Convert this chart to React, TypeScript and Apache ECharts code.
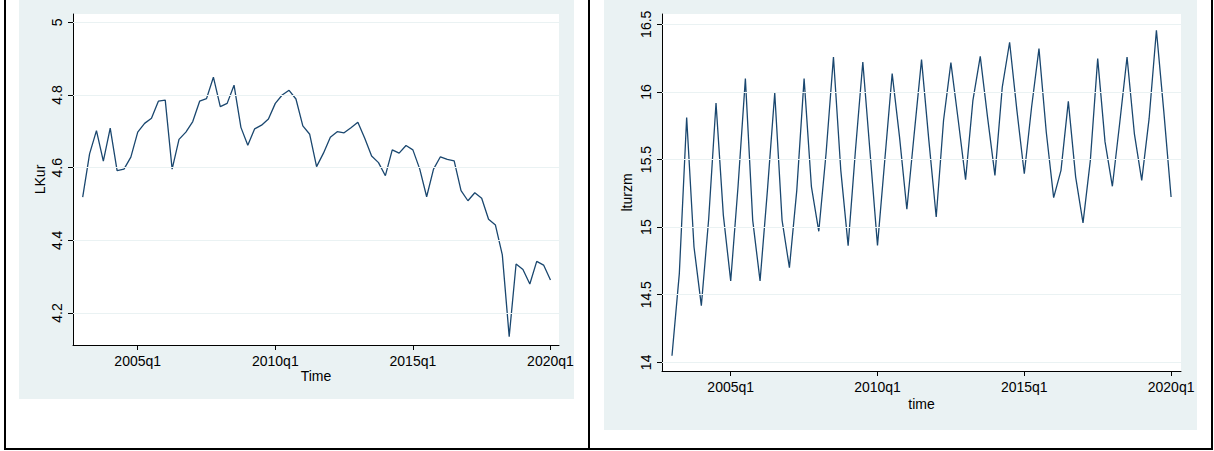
import React, { useEffect, useRef } from "react";
import * as echarts from "echarts";

// Quarterly series, 2003q1 .. 2020q1 (69 quarters)
const lkur = [
  4.519, 4.638, 4.702, 4.618, 4.709, 4.592, 4.596, 4.629,
  4.698, 4.722, 4.736, 4.783, 4.786, 4.596, 4.678, 4.698,
  4.727, 4.783, 4.79, 4.849, 4.768, 4.777, 4.827, 4.711,
  4.662, 4.707, 4.717, 4.734, 4.777, 4.8, 4.813, 4.789,
  4.715, 4.692, 4.603, 4.64, 4.684, 4.699, 4.696, 4.71,
  4.725, 4.681, 4.632, 4.614, 4.578, 4.649, 4.64, 4.661,
  4.649, 4.596, 4.52, 4.596, 4.63, 4.623, 4.619, 4.537,
  4.509, 4.531, 4.516, 4.458, 4.442, 4.36, 4.135, 4.335,
  4.32, 4.28, 4.342, 4.332, 4.291,
];

const lturzm = [
  14.049, 14.656, 15.81, 14.853, 14.419, 15.06, 15.918, 15.087,
  14.602, 15.3, 16.098, 15.05, 14.602, 15.27, 15.992, 15.05,
  14.7, 15.27, 16.098, 15.297, 14.969, 15.55, 16.258, 15.42,
  14.863, 15.57, 16.221, 15.543, 14.865, 15.5, 16.135, 15.667,
  15.132, 15.69, 16.239, 15.64, 15.075, 15.79, 16.216, 15.79,
  15.351, 15.938, 16.263, 15.81, 15.383, 16.036, 16.367, 15.86,
  15.395, 15.89, 16.32, 15.7, 15.218, 15.42, 15.93, 15.37,
  15.031, 15.494, 16.246, 15.63, 15.302, 15.77, 16.258, 15.69,
  15.346, 15.8, 16.456, 15.86, 15.223,
];

const xTickIndex = [8, 28, 48, 68];
const xTickLabels = ["2005q1", "2010q1", "2015q1", "2020q1"];
const lkurTicks = [4.2, 4.4, 4.6, 4.8, 5];
const lturzmTicks = [14, 14.5, 15, 15.5, 16, 16.5];

const NAVY = "#1a476f";
const GRIDC = "#eaf2f3";
const FONT = "Liberation Sans";
const FS = 14;

function xLabel(v: number) {
  const k = xTickIndex.indexOf(Math.round(v));
  return k >= 0 ? xTickLabels[k] : "";
}

function makeX(gridIndex: number, name: string, min: number, max: number, nameGap: number) {
  return {
    type: "value",
    gridIndex,
    min,
    max,
    name,
    nameLocation: "middle",
    nameGap,
    nameMoveOverlap: false,
    nameTextStyle: { color: "#000", fontFamily: FONT, fontSize: FS },
    axisLine: { show: true, onZero: false, lineStyle: { color: "#000", width: 1 } },
    axisTick: { show: true, length: 5, customValues: xTickIndex, lineStyle: { color: "#000" } },
    axisLabel: {
      customValues: xTickIndex,
      formatter: xLabel,
      color: "#000",
      fontFamily: FONT,
      fontSize: FS,
      margin: 9,
    },
    splitLine: { show: false },
  };
}

function makeY(gridIndex: number, name: string, min: number, max: number, ticks: number[], nameGap: number) {
  return {
    type: "value",
    gridIndex,
    min,
    max,
    name,
    nameLocation: "middle",
    nameGap,
    nameTextStyle: { color: "#000", fontFamily: FONT, fontSize: FS },
    axisLine: { show: true, onZero: false, lineStyle: { color: "#000", width: 1 } },
    axisTick: { show: true, length: 5, customValues: ticks, lineStyle: { color: "#000" } },
    axisLabel: {
      customValues: ticks,
      formatter: (v: number) => String(v),
      rotate: 90,
      color: "#000",
      fontFamily: FONT,
      fontSize: FS,
      margin: 9,
    },
    splitLine: { show: false },
  };
}

function gridSeries(idx: number, data: number[][], ticks: number[]) {
  return {
    type: "line",
    xAxisIndex: idx,
    yAxisIndex: idx,
    data,
    showSymbol: false,
    silent: true,
    z: 1,
    lineStyle: { opacity: 0 },
    markLine: {
      silent: true,
      symbol: ["none", "none"],
      label: { show: false },
      lineStyle: { color: GRIDC, type: "solid", width: 1.2 },
      data: ticks.map((t) => ({ yAxis: t })),
    },
  };
}

export default function App() {
  const ref = useRef<HTMLDivElement>(null);

  useEffect(() => {
    if (!ref.current) return;
    const chart = echarts.init(ref.current, undefined, { renderer: "svg" });
    const d1 = lkur.map((v, i) => [i, v]);
    const d2 = lturzm.map((v, i) => [i, v]);
    chart.setOption({
      animation: false,
      grid: [
        { left: 73, top: 14, width: 486, height: 331, show: true, backgroundColor: "#fff", borderWidth: 0 },
        { left: 662, top: 14, width: 519, height: 357, show: true, backgroundColor: "#fff", borderWidth: 0 },
      ],
      xAxis: [makeX(0, "Time", -1.41, 69.24, 24), makeX(1, "time", -1.36, 69.35, 26)],
      yAxis: [
        makeY(0, "LKur", 4.112, 5.023, lkurTicks, 26),
        makeY(1, "lturzm", 13.936, 16.576, lturzmTicks, 28),
      ],
      series: [
        gridSeries(0, d1, lkurTicks),
        gridSeries(1, d2, lturzmTicks),
        {
          type: "line",
          xAxisIndex: 0,
          yAxisIndex: 0,
          data: d1,
          showSymbol: false,
          z: 3,
          lineStyle: { color: NAVY, width: 1.3 },
        },
        {
          type: "line",
          xAxisIndex: 1,
          yAxisIndex: 1,
          data: d2,
          showSymbol: false,
          z: 3,
          lineStyle: { color: NAVY, width: 1.3 },
        },
      ],
    });
    return () => chart.dispose();
  }, []);

  return (
    <div style={{ position: "fixed", left: 0, top: 0, width: 1214, height: 451, background: "#fff" }}>
      <div style={{ position: "absolute", left: 19, top: 0, width: 555, height: 399, background: GRIDC }} />
      <div style={{ position: "absolute", left: 604, top: 0, width: 593, height: 430, background: GRIDC }} />
      <div style={{ position: "absolute", left: 4, top: 0, width: 2, height: 450, background: "#000" }} />
      <div style={{ position: "absolute", left: 588, top: 0, width: 2, height: 450, background: "#000" }} />
      <div style={{ position: "absolute", left: 1211, top: 0, width: 2, height: 450, background: "#000" }} />
      <div style={{ position: "absolute", left: 4, top: 448, width: 1209, height: 2, background: "#000" }} />
      <div ref={ref} style={{ position: "absolute", left: 0, top: 0, width: 1214, height: 451 }} />
    </div>
  );
}
